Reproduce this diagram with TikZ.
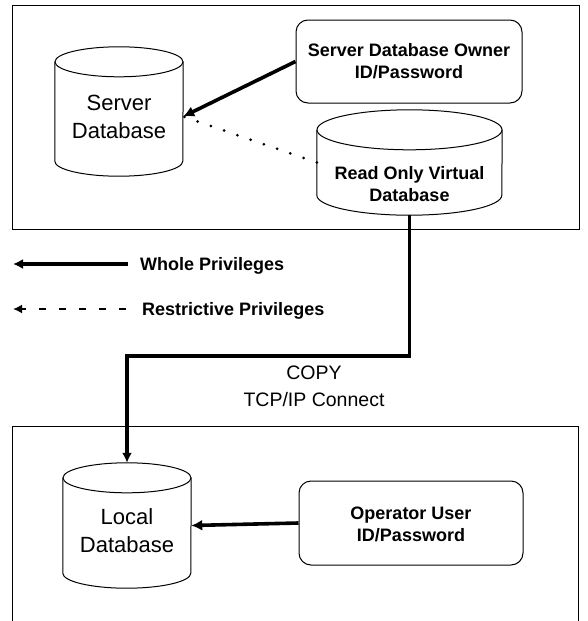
\documentclass[tikz,border=0pt]{standalone}
\usepackage{fontspec}
\setmainfont{Liberation Sans}
\usetikzlibrary{arrows.meta}
\newcommand{\cylpath}[3]{%
  \draw[outline] ([yshift=-#2]#1.north) ellipse[x radius=#3, y radius=#2];
  \draw[outline] ([yshift=-#2]#1.north west) -- ([yshift=#2]#1.south west)
     arc[start angle=180, end angle=360, x radius=#3, y radius=#2]
     -- ([yshift=-#2]#1.north east);
}
\tikzset{
  outline/.style={draw, line width=1pt},
  rbox/.style={draw, line width=1pt, rounded corners=12pt, inner sep=0pt},
  cylbox/.style={inner sep=0pt, draw=none},
  lbl/.style={font=\fontsize{18pt}{22pt}\selectfont\bfseries, align=center, inner sep=0pt},
  big/.style={font=\fontsize{22pt}{28pt}\selectfont, align=center, inner sep=0pt},
  mid/.style={font=\fontsize{19.5pt}{27pt}\selectfont, align=center, inner sep=0pt},
  heavy/.style={line width=3.6pt, -{Latex[length=11pt,width=11pt]}},
  medium/.style={line width=3.2pt, -{Latex[length=10pt,width=10pt]}},
  dotline/.style={line width=3pt, line cap=round, dash pattern=on 0pt off 14pt},
  dashline/.style={line width=2.8pt, dash pattern=on 7pt off 13pt, -{Latex[length=9pt,width=9pt]}},
}
\begin{document}
\begin{tikzpicture}[x=1pt, y=-1pt]
\useasboundingbox (0,0) rectangle (587,621);
% frames
\draw[outline] (12,5) rectangle (579,229);
\draw[outline] (12,625) -- (12,426) -- (578,426) -- (578,625);

% server side
\node[cylbox, minimum width=128pt, minimum height=129pt] (srv) at (119,111.5) {};
\cylpath{srv}{15pt}{64pt}
\node[big] (srvtxt) at (119,117) {Server\\Database};

\node[rbox, minimum width=226pt, minimum height=83pt] (owner) at (409,61.5) {};
\node[lbl] (ownertxt) at (409,61.5) {Server Database Owner\\ID/Password};

\node[cylbox, minimum width=185pt, minimum height=105pt] (ro) at (409.5,162.5) {};
\cylpath{ro}{20pt}{92.5pt}
\node[lbl] (rotxt) at (409.5,184) {Read Only Virtual\\Database};

\coordinate (srvin) at ([yshift=-5pt]srv.east);
\draw[dotline] (ro.west) -- (srvin);
\draw[heavy] (owner.west) -- (srvin);

% legend
\coordinate (w1) at (128,264);
\coordinate (w0) at (13,264);
\draw[medium] (w1) -- (w0);
\node[lbl, anchor=west] (wtxt) at (140,266) {Whole Privileges};
\coordinate (r1) at (126,309);
\coordinate (r0) at (13,309);
\draw[dashline] (r1) -- (r0);
\node[lbl, anchor=west] (rtxt) at (142,311) {Restrictive Privileges};

% local side
\node[cylbox, minimum width=128pt, minimum height=125pt] (local) at (127,525.5) {};
\cylpath{local}{15pt}{64pt}
\node[big] (localtxt) at (127,531) {Local\\Database};

\node[rbox, minimum width=224pt, minimum height=84pt] (oper) at (411,523) {};
\node[lbl] (opertxt) at (411,524) {Operator User\\ID/Password};
\draw[heavy] (oper.west) -- (local.east);

% copy path
\draw[medium] (ro.south) -- (ro.south |- 0,356) -- (local.north |- 0,356) -- (local.north);
\node[mid] (copytxt) at (314,386) {COPY\\TCP/IP Connect};
\end{tikzpicture}
\end{document}
